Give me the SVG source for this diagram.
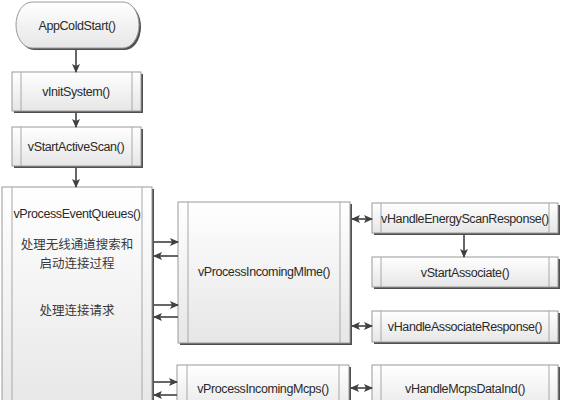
<svg xmlns="http://www.w3.org/2000/svg" width="562" height="400" viewBox="0 0 562 400">
<defs>
<linearGradient id="g" x1="0" y1="0" x2="0" y2="1">
<stop offset="0" stop-color="#ffffff"/>
<stop offset="1" stop-color="#e6e6e6"/>
</linearGradient>
<marker id="ah" markerUnits="userSpaceOnUse" markerWidth="9" markerHeight="8" refX="8" refY="4" orient="auto-start-reverse">
<path d="M0,0 L9,4 L0,8 L2,4 Z" fill="#404040"/>
</marker>
</defs>
<style>
.sh{fill:#505050;}
.bx{fill:url(#g);stroke:#9a9a9a;stroke-width:1;}
.bar{stroke:#a8a8a8;stroke-width:1;fill:none;}
.t{font-family:"Liberation Sans",Arial,sans-serif;font-size:12.5px;fill:#2a2a2a;text-anchor:middle;letter-spacing:-0.4px;}
.c{font-family:"Noto Sans CJK SC",sans-serif;font-size:12.5px;fill:#3a3a3a;text-anchor:middle;}
.ln{stroke:#404040;stroke-width:1.6;fill:none;}
</style>
<rect width="562" height="400" fill="#ffffff"/>

<g id="appColdStart">
<rect class="sh" x="18" y="4" width="123" height="46" rx="16" ry="23"/>
<rect class="bx" x="16" y="2" width="123" height="46" rx="16" ry="23"/>
<text class="t" x="77" y="29.5">AppColdStart()</text>
</g>

<g id="vInitSystem">
<rect class="sh" x="14" y="74" width="129" height="39"/>
<rect class="bx" x="12" y="72" width="129" height="39"/>
<line class="bar" x1="21" y1="72" x2="21" y2="111"/>
<line class="bar" x1="132" y1="72" x2="132" y2="111"/>
<text class="t" x="76" y="96">vInitSystem()</text>
</g>

<g id="vStartActiveScan">
<rect class="sh" x="14" y="129" width="129" height="39"/>
<rect class="bx" x="12" y="127" width="129" height="39"/>
<line class="bar" x1="21" y1="127" x2="21" y2="166"/>
<line class="bar" x1="132" y1="127" x2="132" y2="166"/>
<text class="t" x="76" y="151">vStartActiveScan()</text>
</g>

<g id="vProcessEventQueues">
<rect class="sh" x="4" y="189" width="150" height="230"/>
<rect class="bx" x="2" y="187" width="150" height="230"/>
<line class="bar" x1="12" y1="187" x2="12" y2="417"/>
<line class="bar" x1="142" y1="187" x2="142" y2="417"/>
<text class="t" x="77" y="218">vProcessEventQueues()</text>
<text class="c" x="77" y="249">处理无线通道搜索和</text>
<text class="c" x="77" y="268">启动连接过程</text>
<text class="c" x="77" y="315">处理连接请求</text>
</g>

<g id="vProcessIncomingMlme">
<rect class="sh" x="180" y="204" width="172" height="141"/>
<rect class="bx" x="178" y="202" width="172" height="141"/>
<line class="bar" x1="188" y1="202" x2="188" y2="343"/>
<line class="bar" x1="340" y1="202" x2="340" y2="343"/>
<text class="t" x="264" y="276">vProcessIncomingMlme()</text>
</g>

<g id="vProcessIncomingMcps">
<rect class="sh" x="179" y="367" width="172" height="50"/>
<rect class="bx" x="177" y="365" width="172" height="50"/>
<line class="bar" x1="187" y1="365" x2="187" y2="415"/>
<line class="bar" x1="339" y1="365" x2="339" y2="415"/>
<text class="t" x="263" y="393">vProcessIncomingMcps()</text>
</g>

<g id="vHandleEnergyScanResponse">
<rect class="sh" x="374" y="205" width="186" height="30"/>
<rect class="bx" x="372" y="203" width="186" height="30"/>
<line class="bar" x1="381" y1="203" x2="381" y2="233"/>
<line class="bar" x1="549" y1="203" x2="549" y2="233"/>
<text class="t" x="465" y="222.5">vHandleEnergyScanResponse()</text>
</g>

<g id="vStartAssociate">
<rect class="sh" x="374" y="259" width="186" height="30"/>
<rect class="bx" x="372" y="257" width="186" height="30"/>
<line class="bar" x1="381" y1="257" x2="381" y2="287"/>
<line class="bar" x1="549" y1="257" x2="549" y2="287"/>
<text class="t" x="465" y="276.5">vStartAssociate()</text>
</g>

<g id="vHandleAssociateResponse">
<rect class="sh" x="374" y="313" width="186" height="31"/>
<rect class="bx" x="372" y="311" width="186" height="31"/>
<line class="bar" x1="381" y1="311" x2="381" y2="342"/>
<line class="bar" x1="549" y1="311" x2="549" y2="342"/>
<text class="t" x="465" y="331">vHandleAssociateResponse()</text>
</g>

<g id="vHandleMcpsDataInd">
<rect class="sh" x="374" y="367" width="186" height="50"/>
<rect class="bx" x="372" y="365" width="186" height="50"/>
<line class="bar" x1="381" y1="365" x2="381" y2="415"/>
<line class="bar" x1="549" y1="365" x2="549" y2="415"/>
<text class="t" x="465" y="393">vHandleMcpsDataInd()</text>
</g>

<g id="connectors">
<line class="ln" x1="76" y1="50" x2="76" y2="72" marker-end="url(#ah)"/>
<line class="ln" x1="76" y1="113" x2="76" y2="127" marker-end="url(#ah)"/>
<line class="ln" x1="76" y1="168" x2="76" y2="187" marker-end="url(#ah)"/>
<line class="ln" x1="154" y1="242" x2="178" y2="242" marker-end="url(#ah)"/>
<line class="ln" x1="178" y1="256" x2="154" y2="256" marker-end="url(#ah)"/>
<line class="ln" x1="154" y1="305" x2="178" y2="305" marker-end="url(#ah)"/>
<line class="ln" x1="178" y1="317" x2="154" y2="317" marker-end="url(#ah)"/>
<line class="ln" x1="154" y1="382" x2="177" y2="382" marker-end="url(#ah)"/>
<line class="ln" x1="177" y1="395" x2="154" y2="395" marker-end="url(#ah)"/>
<line class="ln" x1="352" y1="219" x2="372" y2="219" marker-start="url(#ah)" marker-end="url(#ah)"/>
<line class="ln" x1="352" y1="326" x2="372" y2="326" marker-start="url(#ah)" marker-end="url(#ah)"/>
<line class="ln" x1="351" y1="388" x2="372" y2="388" marker-start="url(#ah)" marker-end="url(#ah)"/>
<line class="ln" x1="464" y1="235" x2="464" y2="257" marker-end="url(#ah)"/>
</g>
</svg>
